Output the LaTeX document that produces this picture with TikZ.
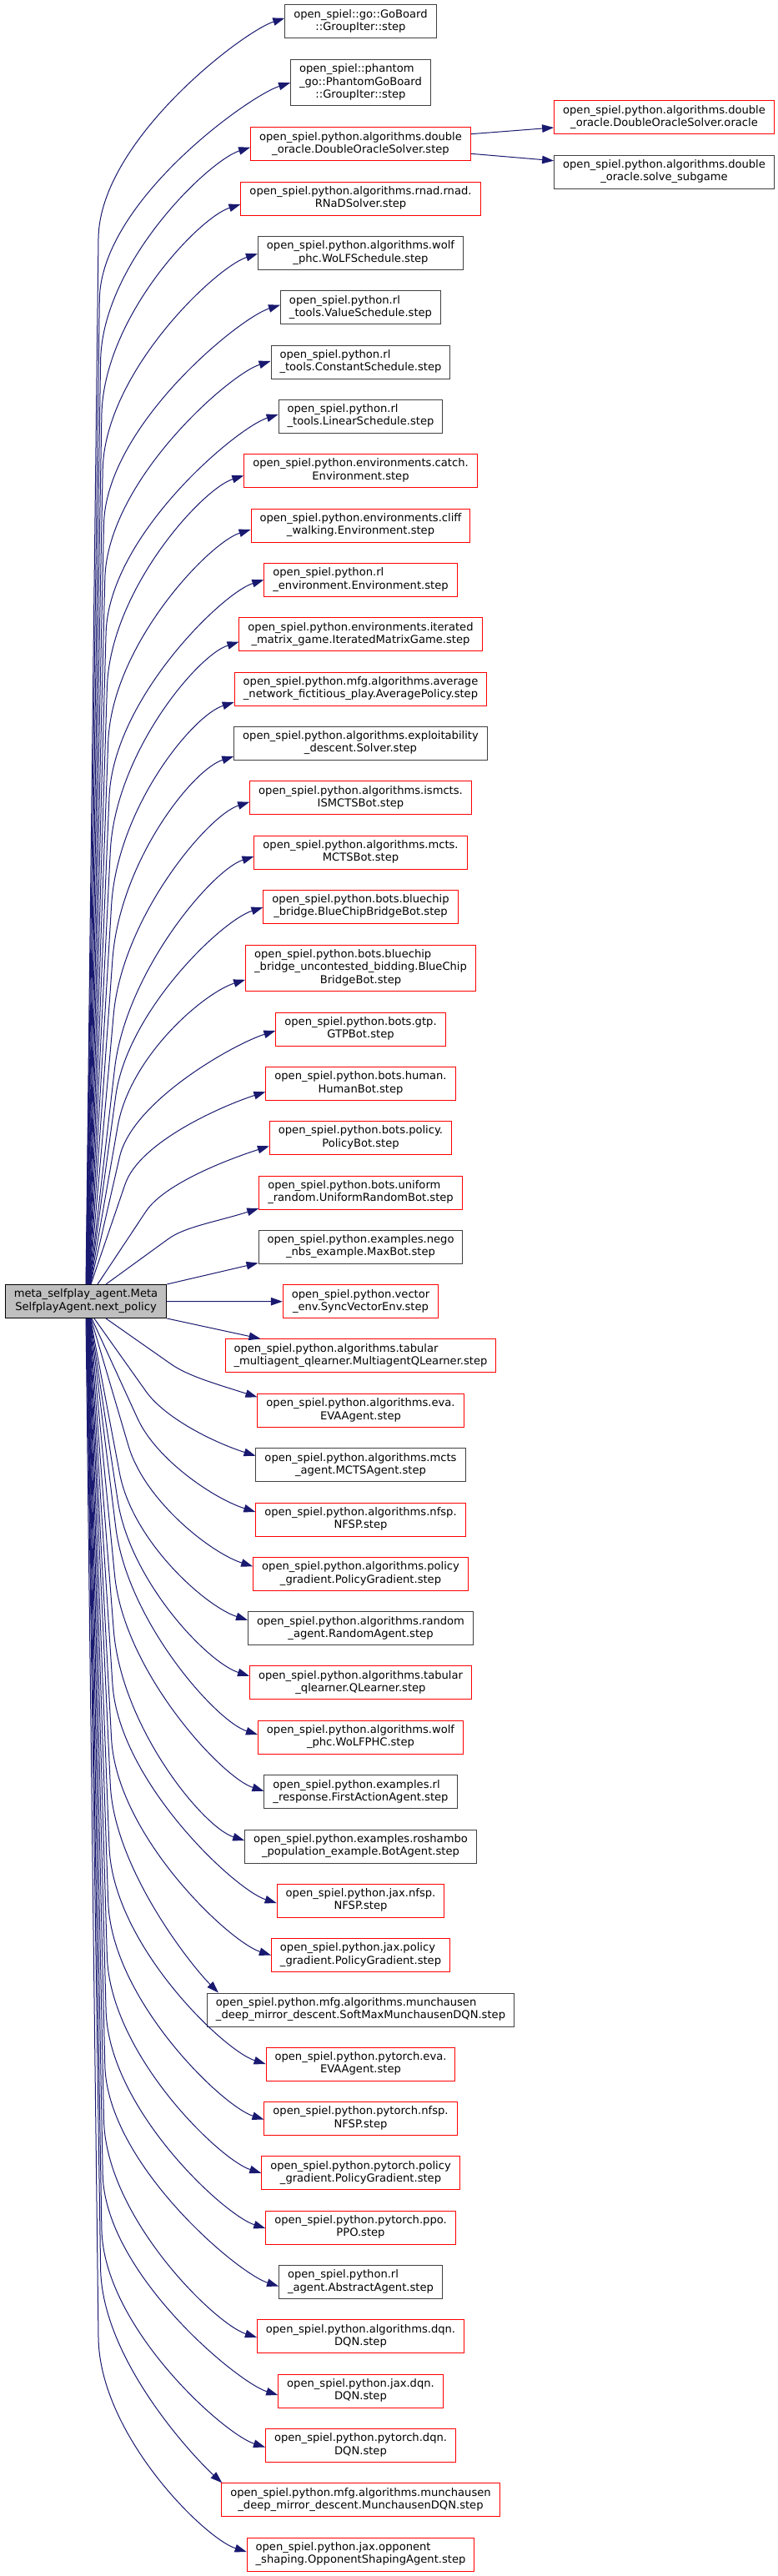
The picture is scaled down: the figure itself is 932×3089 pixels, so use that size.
\documentclass[tikz,border=0pt]{standalone}
\usepackage{fontspec}
\setmainfont{DejaVu Sans}
\usetikzlibrary{arrows.meta,calc}
\definecolor{edgec}{HTML}{191970}
\definecolor{nblack}{HTML}{404040}
\definecolor{nred}{HTML}{FF0000}
\definecolor{srcfill}{HTML}{BFBFBF}
\newcommand\twol[2]{\begin{tabular}{@{}l@{}}#1\\\multicolumn{1}{@{}c@{}}{#2}\end{tabular}}
\newcommand\threel[3]{\begin{tabular}{@{}l@{}}#1\\#2\\\multicolumn{1}{@{}c@{}}{#3}\end{tabular}}
\begin{document}
\begin{tikzpicture}[x=1pt,y=-1pt,
  base/.style={draw, fill=white, line width=1pt, inner xsep=10.5pt, inner ysep=0pt,
    minimum height=40pt, font={\fontsize{13.1}{15.3}\selectfont}},
  nb/.style={base, draw=nblack},
  nr/.style={base, draw=nred},
  tall/.style={minimum height=55pt},
  edge/.style={draw=edgec, line width=1pt, -{Triangle[length=14pt,width=9.5pt]}, fill=none}]
\fill[white] (0,0) rectangle (932,3089);
\useasboundingbox (0,0) rectangle (932,3089);

\node[base, fill=srcfill, draw=black] (src) at (103,1560.5) {\twol{meta\_selfplay\_agent.Meta}{SelfplayAgent.next\_policy}};

\node[nb] (gob) at (432.5,25.8) {\twol{open\_spiel::go::GoBoard}{::GroupIter::step}};
\node[nb,tall] (pgo) at (432.5,99.2) {\threel{open\_spiel::phantom}{\_go::PhantomGoBoard}{::GroupIter::step}};
\node[nr] (dos) at (432.5,172.7) {\twol{open\_spiel.python.algorithms.double}{\_oracle.DoubleOracleSolver.step}};
\node[nr] (rnad) at (432.5,238) {\twol{open\_spiel.python.algorithms.rnad.rnad.}{RNaDSolver.step}};
\node[nb] (wolfs) at (432.5,303.3) {\twol{open\_spiel.python.algorithms.wolf}{\_phc.WoLFSchedule.step}};
\node[nb] (vals) at (432.5,368.7) {\twol{open\_spiel.python.rl}{\_tools.ValueSchedule.step}};
\node[nb] (cons) at (432.5,434) {\twol{open\_spiel.python.rl}{\_tools.ConstantSchedule.step}};
\node[nb] (lins) at (432.5,499) {\twol{open\_spiel.python.rl}{\_tools.LinearSchedule.step}};
\node[nr] (catch) at (432.5,564.3) {\twol{open\_spiel.python.environments.catch.}{Environment.step}};
\node[nr] (cliff) at (432.5,630) {\twol{open\_spiel.python.environments.cliff}{\_walking.Environment.step}};
\node[nr] (rlenv) at (432.5,695.3) {\twol{open\_spiel.python.rl}{\_environment.Environment.step}};
\node[nr] (iter) at (432.5,760.7) {\twol{open\_spiel.python.environments.iterated}{\_matrix\_game.IteratedMatrixGame.step}};
\node[nr] (mfgavg) at (432.5,826) {\twol{open\_spiel.python.mfg.algorithms.average}{\_network\_fictitious\_play.AveragePolicy.step}};
\node[nb] (expl) at (432.5,891) {\twol{open\_spiel.python.algorithms.exploitability}{\_descent.Solver.step}};
\node[nr] (ismcts) at (432.5,956.7) {\twol{open\_spiel.python.algorithms.ismcts.}{ISMCTSBot.step}};
\node[nr] (mctsb) at (432.5,1022) {\twol{open\_spiel.python.algorithms.mcts.}{MCTSBot.step}};
\node[nr] (bcb) at (432.5,1087) {\twol{open\_spiel.python.bots.bluechip}{\_bridge.BlueChipBridgeBot.step}};
\node[nr,tall] (bcu) at (432.5,1160.8) {\threel{open\_spiel.python.bots.bluechip}{\_bridge\_uncontested\_bidding.BlueChip}{BridgeBot.step}};
\node[nr] (gtp) at (432.5,1234) {\twol{open\_spiel.python.bots.gtp.}{GTPBot.step}};
\node[nr] (human) at (432.5,1299.3) {\twol{open\_spiel.python.bots.human.}{HumanBot.step}};
\node[nr] (polb) at (432.5,1364.3) {\twol{open\_spiel.python.bots.policy.}{PolicyBot.step}};
\node[nr] (unif) at (432.5,1430) {\twol{open\_spiel.python.bots.uniform}{\_random.UniformRandomBot.step}};
\node[nb] (nego) at (432.5,1495) {\twol{open\_spiel.python.examples.nego}{\_nbs\_example.MaxBot.step}};
\node[nr] (vec) at (432.5,1560.7) {\twol{open\_spiel.python.vector}{\_env.SyncVectorEnv.step}};
\node[nr] (tabm) at (432.5,1625.8) {\twol{open\_spiel.python.algorithms.tabular}{\_multiagent\_qlearner.MultiagentQLearner.step}};
\node[nr] (eva) at (432.5,1691.3) {\twol{open\_spiel.python.algorithms.eva.}{EVAAgent.step}};
\node[nb] (mcag) at (432.5,1756.7) {\twol{open\_spiel.python.algorithms.mcts}{\_agent.MCTSAgent.step}};
\node[nr] (nfsp) at (432.5,1822) {\twol{open\_spiel.python.algorithms.nfsp.}{NFSP.step}};
\node[nr] (pg) at (432.5,1887.3) {\twol{open\_spiel.python.algorithms.policy}{\_gradient.PolicyGradient.step}};
\node[nb] (rand) at (432.5,1952.7) {\twol{open\_spiel.python.algorithms.random}{\_agent.RandomAgent.step}};
\node[nr] (tabq) at (432.5,2017.7) {\twol{open\_spiel.python.algorithms.tabular}{\_qlearner.QLearner.step}};
\node[nr] (wphc) at (432.5,2083) {\twol{open\_spiel.python.algorithms.wolf}{\_phc.WoLFPHC.step}};
\node[nb] (first) at (432.5,2148.7) {\twol{open\_spiel.python.examples.rl}{\_response.FirstActionAgent.step}};
\node[nb] (rosh) at (432.5,2214) {\twol{open\_spiel.python.examples.roshambo}{\_population\_example.BotAgent.step}};
\node[nr] (jnfsp) at (432.5,2279) {\twol{open\_spiel.python.jax.nfsp.}{NFSP.step}};
\node[nr] (jpg) at (432.5,2344.5) {\twol{open\_spiel.python.jax.policy}{\_gradient.PolicyGradient.step}};
\node[nb] (smm) at (432.5,2410) {\twol{open\_spiel.python.mfg.algorithms.munchausen}{\_deep\_mirror\_descent.SoftMaxMunchausenDQN.step}};
\node[nr] (peva) at (432.5,2475) {\twol{open\_spiel.python.pytorch.eva.}{EVAAgent.step}};
\node[nr] (pnfsp) at (432.5,2540.5) {\twol{open\_spiel.python.pytorch.nfsp.}{NFSP.step}};
\node[nr] (ppg) at (432.5,2605.8) {\twol{open\_spiel.python.pytorch.policy}{\_gradient.PolicyGradient.step}};
\node[nr] (ppo) at (432.5,2671) {\twol{open\_spiel.python.pytorch.ppo.}{PPO.step}};
\node[nb] (rlag) at (432.5,2736.5) {\twol{open\_spiel.python.rl}{\_agent.AbstractAgent.step}};
\node[nr] (dqn) at (432.5,2801.8) {\twol{open\_spiel.python.algorithms.dqn.}{DQN.step}};
\node[nr] (jdqn) at (432.5,2867) {\twol{open\_spiel.python.jax.dqn.}{DQN.step}};
\node[nr] (pdqn) at (432.5,2932.5) {\twol{open\_spiel.python.pytorch.dqn.}{DQN.step}};
\node[nr] (mdqn) at (432.5,2997.8) {\twol{open\_spiel.python.mfg.algorithms.munchausen}{\_deep\_mirror\_descent.MunchausenDQN.step}};
\node[nr] (opp) at (432.5,3063) {\twol{open\_spiel.python.jax.opponent}{\_shaping.OpponentShapingAgent.step}};

\node[nr] (ora) at (796.5,140.7) {\twol{open\_spiel.python.algorithms.double}{\_oracle.DoubleOracleSolver.oracle}};
\node[nb] (sol) at (796.5,206) {\twol{open\_spiel.python.algorithms.double}{\_oracle.solve\_subgame}};

% upper edges
\foreach \tn/\ey/\eoff/\edx/\ew in {gob/25.8/-4/0/15, pgo/99.2/0/0.3/16, dos/172.7/4/0.6/17,
  rnad/238/7/0.9/18, wolfs/303.3/1/1.2/19, vals/368.7/-3/1.5/20, cons/434/-1/1.8/21,
  lins/499/-2/2.1/22, catch/564.3/6/2.4/23, cliff/630/5/2.7/24, rlenv/695.3/0/3/25,
  iter/760.7/9/3.3/26, mfgavg/826/16/3.6/27, expl/891/16/3.9/28, ismcts/956.7/5/4.2/29,
  mctsb/1022/5/4.5/30, bcb/1087/1/4.8/31, bcu/1160.8/14/5.1/33, gtp/1234/2/5.4/35,
  human/1299.3/10/6/41, polb/1364.3/10/14/58, unif/1430/19/24/75}{
  \pgfmathsetmacro\eD{min(260,0.5*(1541-\ey))}
  \pgfmathsetmacro\eK{0.45*\eD}
  \pgfmathsetmacro\eqx{103+\edx+\ew}
  \pgfmathsetmacro\eqy{\ey+\eD}
  \coordinate (s) at ($(src.north)+(\edx,0)$);
  \coordinate (q) at (\eqx,\eqy);
  \draw[edge] (s) -- (q) .. controls ($(q)!-\eK pt!(s)$) and ($(\tn.west)+(-50,\eoff+16)$) .. ($(\tn.west)+(0,\eoff)$);
}
% lower edges
\foreach \tn/\ey/\eoff/\edx/\ew in {eva/1691.3/-16/24/78, mcag/1756.7/-11/10/62, nfsp/1822/-9/7/55,
  pg/1887.3/-9/6/45, rand/1952.7/-10/5.4/35, tabq/2017.7/-8/5.1/33, wphc/2083/-3/4.8/31,
  first/2148.7/-1/4.5/30, rosh/2214/-7/4.2/29, jnfsp/2279/3/3.9/28, jpg/2344.5/0/3.6/27,
  peva/2475/0/3/25, pnfsp/2540.5/1/2.7/24, ppg/2605.8/0/2.4/23, ppo/2671/1/2.1/22,
  rlag/2736.5/5/1.8/21, dqn/2801.8/1/1.5/20, jdqn/2867/5/1.2/19, pdqn/2932.5/2/0.9/18,
  opp/3063/-3/0/15}{
  \pgfmathsetmacro\eD{min(260,0.5*(\ey-1580))}
  \pgfmathsetmacro\eK{0.45*\eD}
  \pgfmathsetmacro\eqx{103+\edx+\ew}
  \pgfmathsetmacro\eqy{\ey-\eD}
  \coordinate (s) at ($(src.south)+(\edx,0)$);
  \coordinate (q) at (\eqx,\eqy);
  \draw[edge] (s) -- (q) .. controls ($(q)!-\eK pt!(s)$) and ($(\tn.west)+(-50,\eoff-16)$) .. ($(\tn.west)+(0,\eoff)$);
}
% special lower edges entering from the top border
\coordinate (s) at ($(src.south)+(3.3,0)$);
\coordinate (q) at (132.3,2140);
\draw[edge] (s) -- (q) .. controls ($(q)!-100pt!(s)$) and ($(smm.north west)+(-20,-34)$) .. ($(smm.north west)+(14,0)$);
\coordinate (s) at ($(src.south)+(0.6,0)$);
\coordinate (q) at (120.6,2720);
\draw[edge] (s) -- (q) .. controls ($(q)!-110pt!(s)$) and ($(mdqn.north west)+(-32,-30)$) .. ($(mdqn.north west)+(1,0)$);
% straight edges near the source
\draw[edge] (src.north east) -- ($(nego.south west)+(0,-1)$);
\draw[edge] (src.east) -- (vec.west);
\draw[edge] (src.south east) -- ($(tabm.north west)+(43,0)$);
% double oracle
\draw[edge] ($(dos.east)+(0,-12)$) -- ($(ora.west)+(0,12.3)$);
\draw[edge] ($(dos.east)+(0,11.6)$) -- ($(sol.west)+(0,-13.3)$);
\end{tikzpicture}
\end{document}
